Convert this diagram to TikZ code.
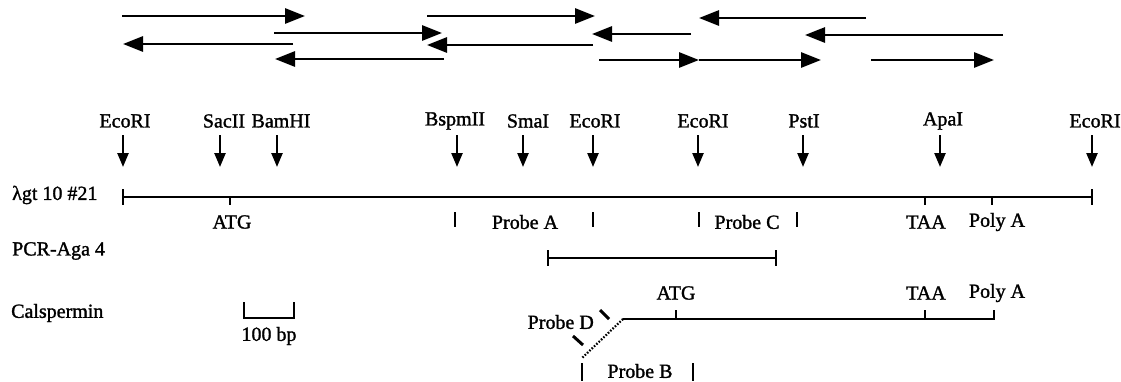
\documentclass[tikz,border=0pt]{standalone}
\usepackage{fontspec}
\setmainfont{Liberation Serif}
\newfontfamily\printfont{Liberation Serif}[FakeBold=1.4]
\usetikzlibrary{arrows.meta}
\begin{document}
\begin{tikzpicture}[x=1pt,y=-1pt,
  lbl/.style={inner sep=0pt, font=\printfont\fontsize{20}{24}\selectfont},
  seq/.style={line width=2.8pt, -{Triangle[length=20pt,width=15pt]}},
  cutarrow/.style={line width=2.4pt, -{Triangle[length=14pt,width=11pt]}},
  dna/.style={line width=2.6pt},
  tickmark/.style={line width=2.6pt},
  probedash/.style={line width=3pt}]
\useasboundingbox (0,0) rectangle (1121,381);

% sequencing runs
\draw[seq] (122,16) -- (305,16);
\draw[seq] (427,16) -- (595,16);
\draw[seq] (866,18) -- (699,18);
\draw[seq] (274,33) -- (442,33);
\draw[seq] (691,34) -- (592,34);
\draw[seq] (1003,35) -- (805,35);
\draw[seq] (293,44) -- (123,44);
\draw[seq] (593,45) -- (427,45);
\draw[seq] (444,59) -- (275,59);
\draw[seq] (599,60) -- (699,60);
\draw[seq] (699,60) -- (821,60);
\draw[seq] (871,60) -- (994,60);

% restriction sites
\foreach \n/\lx/\ax in {EcoRI/125/123, SacII/224/220, BamHI/281/277,
    BspmII/455/457, SmaI/528/523, EcoRI/595/593, EcoRI/703/698,
    PstI/804/803, ApaI/943/940, EcoRI/1095/1092}{
  \node[lbl] (site\ax) at (\lx,121) {\n};
  \coordinate (cut\ax) at (\ax,167);
  \draw[cutarrow] (\ax,135) -- (cut\ax);
}

% lambda clone
\node[lbl, anchor=west] (clone) at (12,195) {λgt 10 \#21};
\coordinate (cl) at (123,197);
\coordinate (cr) at (1092,197);
\draw[dna] (cl) -- (cr);
\draw[tickmark] (123,189) -- (123,205);
\draw[tickmark] (1092,189) -- (1092,205);
\draw[tickmark] (230,197) -- (230,205);
\draw[tickmark] (925,197) -- (925,205);
\draw[tickmark] (992,197) -- (992,205);
\foreach \x in {455,593,699,797}
  \draw[tickmark] (\x,212) -- (\x,227);
\node[lbl] (atg1) at (232,222) {ATG};
\node[lbl] (pa) at (525,222) {Probe A};
\node[lbl] (pc) at (747,222) {Probe C};
\node[lbl] (taa1) at (926,222) {TAA};
\node[lbl] (poly1) at (997,222) {Poly A};

% PCR fragment
\node[lbl, anchor=west] (pcr) at (12,251) {PCR-Aga 4};
\coordinate (pl) at (548,258);
\coordinate (pr) at (776,258);
\draw[dna] (pl) -- (pr);
\draw[tickmark] (548,250) -- (548,266);
\draw[tickmark] (776,250) -- (776,266);

% calspermin cDNA
\node[lbl, anchor=west] (cal) at (11,313) {Calspermin};
\coordinate (cs) at (623,319);
\coordinate (ce) at (994,319);
\coordinate (cb) at (582,358);
\draw[dna] (cs) -- (ce);
\draw[tickmark] (994,310) -- (994,320);
\draw[tickmark] (676,310) -- (676,319);
\draw[tickmark] (925,310) -- (925,319);
\draw[line width=2.2pt, dash pattern=on 1.6pt off 1.6pt] (cs) -- (cb);
\node[lbl] (atg2) at (676,293) {ATG};
\node[lbl] (taa2) at (926,293) {TAA};
\node[lbl] (poly2) at (997,293) {Poly A};

% probe D marks
\draw[probedash] (600,310) -- (609,319);
\draw[probedash] (573,336) -- (583,345);
\node[lbl, anchor=east] (pd) at (594,322) {Probe D};

% probe B
\draw[tickmark] (582,363) -- (582,381);
\draw[tickmark] (693,363) -- (693,381);
\node[lbl] (pb) at (640,371) {Probe B};

% scale bar
\draw[tickmark] (244,302) -- (244,318) -- (294,318) -- (294,302);
\node[lbl] (bar) at (269,336) {100 bp};
\end{tikzpicture}
\end{document}
